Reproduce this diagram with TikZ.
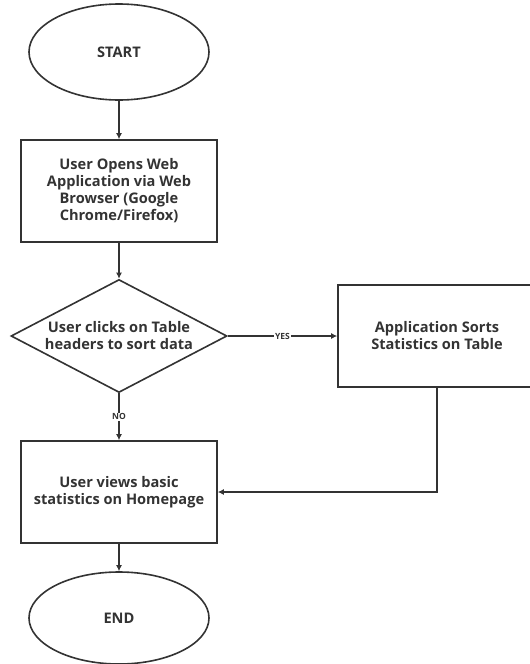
\documentclass[tikz,border=0pt]{standalone}
\usepackage{fontspec}
\setmainfont{Open Sans}
\usetikzlibrary{shapes.geometric,arrows.meta}
\definecolor{ink}{HTML}{333333}
\begin{document}
\begin{tikzpicture}[x=1pt,y=-1pt,
  base/.style={draw=ink,line width=1.6pt,text=ink,font=\bfseries\fontsize{14.6}{17}\selectfont,align=center,inner sep=0pt},
  term/.style={base,ellipse,minimum width=180pt},
  proc/.style={base,rectangle,minimum width=196pt,minimum height=102pt},
  dec/.style={base,diamond,aspect=1.9,minimum width=216pt,minimum height=113pt},
  conn/.style={draw=ink,line width=1.6pt,-{Latex[length=6pt,width=6pt]}},
  lab/.style={fill=white,text=ink,font=\bfseries\fontsize{8.5}{9}\selectfont,inner sep=1pt}]
\useasboundingbox (0,0) rectangle (530,664);
\clip (0,0) rectangle (530,664);
\node[term,minimum height=96pt] (start) at (119,52) {START};
\node[proc] (open) at (119,191) {User Opens Web\\Application via Web\\Browser (Google\\Chrome/Firefox)};
\node[dec] (click) at (119,336) {User clicks on Table\\headers to sort data};
\node[proc,minimum width=198pt] (sort) at (437,336) {Application Sorts\\Statistics on Table};
\node[proc] (view) at (119,492) {User views basic\\statistics on Homepage};
\node[term,minimum height=92pt] (end) at (119,618) {END};
\draw[conn] (start) -- (open);
\draw[conn] (open) -- (click);
\draw[conn] (click) -- node[lab]{YES} (sort);
\draw[conn] (click) -- node[lab]{NO} (view);
\draw[conn] (sort.south) |- (view.east);
\draw[conn] (view) -- (end);
\end{tikzpicture}
\end{document}
